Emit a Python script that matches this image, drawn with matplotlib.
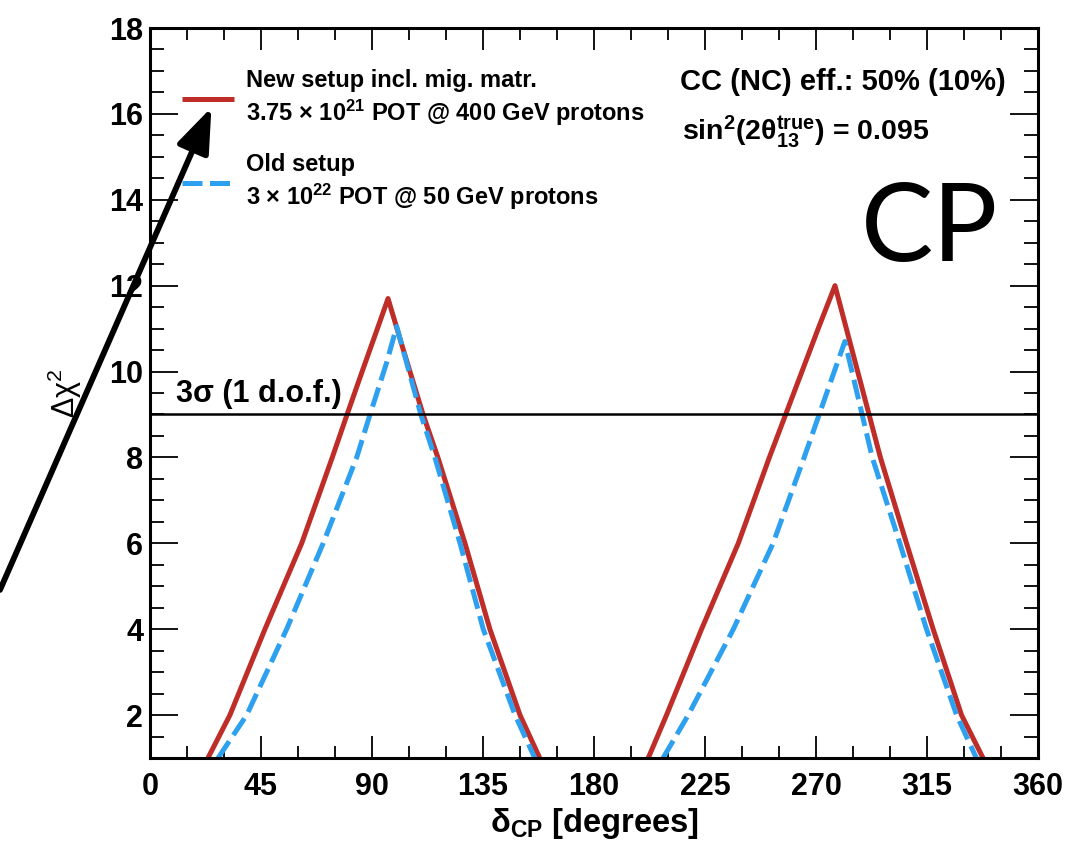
import numpy as np
import matplotlib
matplotlib.use("Agg")
import matplotlib.pyplot as plt

plt.rcParams['font.family'] = ['Liberation Sans', 'DejaVu Sans']
plt.rcParams['mathtext.default'] = 'regular'

nan = np.nan
# New setup (red, solid)
red_x = [23.5, 32.4, 46.6, 61.5, 73.9, 79.9, 86.0, 92.2, 96.5, 102.2, 110.7, 116.7, 127.7, 137.8, 150.0, 158.0,
         nan,
         202.0, 209.4, 223.6, 238.5, 251.1, 257.7, 264.3, 270.9, 277.7, 282.3, 286.9, 291.5, 296.1, 306.7, 317.5, 329.0, 337.7]
red_y = [1, 2, 4, 6, 8, 9, 10, 11, 11.7, 10.6, 9, 8, 6, 4, 2, 1,
         nan,
         1, 2, 4, 6, 8, 9, 10, 11, 12.0, 11, 10, 9, 8, 6, 4, 2, 1]
# Old setup (blue, dashed)
blue_x = [27.6, 39.2, 55.4, 70.2, 83.8, 89.2, 95.9, 100.0, 109.8, 115.5, 125.7, 135.1, 148.0, 156.0,
          nan,
          208.0, 218.2, 236.5, 252.6, 265.2, 271.3, 277.4, 281.7, 288.7, 292.8, 304.0, 314.8, 327.0, 335.0]
blue_y = [1, 2, 4, 6, 8, 9, 10.2, 11.05, 9, 8, 6, 4, 2, 1,
          nan,
          1, 2, 4, 6, 8, 9, 10, 10.7, 9, 8, 6, 4, 2, 1]

sigma3 = 9
x_ticks = [0, 45, 90, 135, 180, 225, 270, 315, 360]
y_ticks = [2, 4, 6, 8, 10, 12, 14, 16, 18]

red_label = "New setup incl. mig. matr.\n3.75 \u00d7 10$^{21}$ POT @ 400 GeV protons"
blue_label = "Old setup\n3 \u00d7 10$^{22}$ POT @ 50 GeV protons"

RED = '#bf2d28'
BLUE = '#2ea0f0'

fig = plt.figure(figsize=(10.66, 8.5), dpi=100)
ax = fig.add_axes([150/1066, 1-758/850, 888/1066, 730/850])

l_red, = ax.plot(red_x, red_y, color=RED, lw=3.6, solid_capstyle='butt', solid_joinstyle='round')
l_blue, = ax.plot(blue_x, blue_y, color=BLUE, lw=3.6, dashes=(4, 1.5), dash_capstyle='butt')
ax.axhline(sigma3, color='black', lw=1.8)

ax.set_xlim(0, 360)
ax.set_ylim(1, 18)
ax.set_xticks(x_ticks)
ax.set_xticks(np.arange(0, 361, 15), minor=True)
ax.set_yticks(y_ticks)
ax.set_yticks(np.arange(1, 18.01, 0.5), minor=True)

for s in ax.spines.values():
    s.set_linewidth(2.2)

ax.tick_params(axis='both', which='both', direction='in', top=True, right=True, width=1.3)
ax.tick_params(axis='x', which='major', length=16, pad=10)
ax.tick_params(axis='x', which='minor', length=8.5)
ax.tick_params(axis='y', which='major', length=20, pad=5)
ax.tick_params(axis='y', which='minor', length=10)
for lab in ax.get_xticklabels() + ax.get_yticklabels():
    lab.set_fontsize(22)
    lab.set_fontweight('bold')

ax.set_xlabel("\u03b4$_{CP}$ [degrees]", fontsize=23.5, fontweight='bold')
ax.xaxis.set_label_coords(0.5, -0.066)
ax.set_ylabel("\u0394\u03c7$^{2}$", fontsize=22)
ax.yaxis.set_label_coords(-0.074, 0.5)

leg = ax.legend([l_red, l_blue], [red_label, blue_label], loc='upper left',
                bbox_to_anchor=(0.036, 0.944), frameon=False, fontsize=17,
                handlelength=2.2, handletextpad=0.5, labelspacing=1.05, borderpad=0,
                borderaxespad=0)
for t in leg.get_texts():
    t.set_fontweight('bold')
    t.set_linespacing(1.25)

ax.text(0.597, 0.926, "CC (NC) eff.: 50% (10%)", transform=ax.transAxes, fontsize=21,
        fontweight='bold', va='center', ha='left')
ax.text(0.599, 0.858, "sin$^{2}$(2\u03b8$_{13}^{true}$) = 0.095", transform=ax.transAxes, fontsize=20.5,
        fontweight='bold', va='center', ha='left')
ax.text(0.029, 0.499, "3\u03c3 (1 d.o.f.)", transform=ax.transAxes, fontsize=22,
        fontweight='bold', va='center', ha='left')
ax.text(0.878, 0.722, "CP", transform=ax.transAxes, fontsize=78, family='Lato',
        va='center', ha='center')

ax.annotate("", xy=(24.9, 16.15), xycoords='data', xytext=(0.0, 0.306), textcoords='figure fraction',
            arrowprops=dict(arrowstyle='-|>,head_length=0.4,head_width=0.15', lw=4.2, color='black',
                            mutation_scale=68, shrinkA=0, shrinkB=0),
            annotation_clip=False)

fig.savefig("out.png", dpi=100)
